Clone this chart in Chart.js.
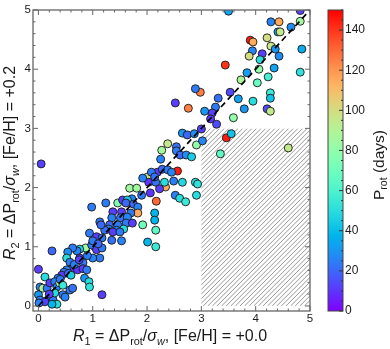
<!DOCTYPE html>
<html>
<head>
<meta charset="utf-8">
<script src="https://cdn.jsdelivr.net/npm/chart.js@4.4.1/dist/chart.umd.min.js"></script>
<style>
  html, body { margin: 0; padding: 0; background: #fff; }
  #wrap { width: 390px; height: 349px; position: relative; }
</style>
</head>
<body>
<div id="wrap"><canvas id="chart" width="390" height="349"></canvas></div>
<script>
/* =========================
   R1 vs R2 scatter, coloured by Prot
========================= */

// -------------------------
// Data
// -------------------------
const r1Values = [
  3.50,4.82,4.28,4.43,4.82,4.65,4.41,4.45,3.90,3.95,4.21,4.28,4.36,4.85,3.94,3.88,4.12,4.43,4.08,3.44,
  4.06,4.34,4.82,3.84,4.23,3.73,4.03,4.27,3.53,2.98,2.89,3.31,3.68,3.95,4.27,3.06,3.26,3.20,3.79,4.21,
  4.27,3.17,3.28,3.59,2.52,2.76,2.65,2.74,2.87,3.00,2.91,3.02,3.46,3.55,3.35,4.60,2.38,2.27,2.54,2.54,
  2.25,2.61,2.72,2.82,2.56,2.01,2.19,2.28,2.38,2.45,2.08,2.03,2.16,2.34,2.32,2.23,2.49,2.65,2.89,2.93,
  2.06,2.52,2.60,2.71,2.91,2.17,0.05,1.68,1.81,1.90,1.72,1.46,1.55,1.64,1.61,1.75,1.83,1.24,0.98,2.14,
  2.14,2.16,2.01,2.16,1.83,1.37,1.53,1.70,1.35,1.51,1.64,1.62,1.73,1.92,1.46,1.31,1.29,1.44,1.53,0.94,
  1.07,1.17,1.22,1.04,1.13,1.35,1.57,1.15,1.37,1.50,1.92,2.14,0.25,0.87,0.98,0.76,0.71,0.63,0.54,1.07,
  1.17,1.13,1.00,0.52,0.58,0.76,0.82,0.63,0.52,0.72,0.82,0.89,0.85,0.93,0.94,0.47,0.43,0.36,0.00,0.12,
  0.03,0.08,0.16,0.21,0.30,0.34,0.39,0.45,0.49,0.00,0.03,0.17,0.12,0.27,0.34,0.25,0.01,1.17,0.30,0.58,
  0.63,0.40,0.55,0.66,0.75,0.90,0.45,0.20,0.60,1.00,1.10
];
const r2Values = [
  4.98,4.99,4.80,4.80,4.81,4.71,4.63,4.63,4.49,4.46,4.53,4.39,4.34,4.34,4.31,4.22,4.26,4.22,4.16,4.07,
  4.00,4.02,3.95,3.94,3.87,3.82,3.77,3.60,3.61,3.61,3.67,3.51,3.50,3.46,3.51,3.29,3.36,3.26,3.33,3.33,
  3.29,3.16,3.07,3.18,3.43,3.34,2.92,2.89,2.91,2.99,2.72,2.79,2.84,2.91,2.57,2.67,2.74,2.63,2.69,2.62,
  2.48,2.55,2.55,2.52,2.28,2.18,2.26,2.31,2.30,2.26,2.26,2.09,2.09,2.01,2.09,1.98,2.11,2.09,2.09,2.06,
  1.91,1.87,1.82,1.76,1.87,1.77,2.40,1.99,1.99,1.87,1.81,1.74,1.79,1.79,1.74,1.72,1.67,1.74,1.67,1.57,
  1.45,1.28,1.08,1.00,1.57,1.59,1.59,1.57,1.49,1.49,1.50,1.40,1.40,1.37,1.37,1.37,1.30,1.28,1.10,1.23,
  1.17,1.15,1.28,1.00,1.42,1.11,1.30,1.37,1.25,1.25,2.16,2.18,0.93,0.98,1.03,0.96,0.93,0.98,0.91,0.95,
  0.98,0.81,0.81,0.81,0.74,0.81,0.73,0.64,0.61,0.61,0.63,0.61,0.47,0.41,0.32,0.57,0.52,0.47,0.62,0.49,
  0.32,0.30,0.30,0.39,0.41,0.32,0.39,0.19,0.15,0.19,0.10,0.10,0.07,0.10,0.03,0.03,0.05,0.19,0.22,0.27,
  0.30,0.45,0.55,0.70,0.78,0.85,0.35,0.20,0.52,1.10,1.05
];
const protDays = [
  33,12,26,115,85,28,33,95,145,115,100,97,30,35,26,100,12,28,50,140,
  80,33,52,32,58,88,68,55,14,125,24,22,33,50,42,30,24,12,30,14,
  95,10,14,80,12,125,30,20,28,12,80,26,145,42,65,95,95,85,22,24,
  26,20,28,45,145,95,12,20,24,26,24,10,22,115,50,12,24,48,50,52,
  10,26,50,55,50,130,12,85,85,24,26,75,12,45,20,20,26,24,24,38,
  38,65,38,55,115,12,12,24,26,22,26,24,12,70,24,20,26,24,26,24,
  12,24,22,26,24,22,50,20,12,24,26,22,20,85,24,45,26,24,28,12,
  24,24,26,50,24,12,24,12,26,10,12,24,30,50,52,24,12,26,12,50,
  26,90,24,12,24,26,85,24,26,30,24,28,12,24,50,38,26,12,50,24,
  22,24,20,26,12,24,55,12,45,24,20
];

const axisTicks = [0, 1, 2, 3, 4, 5];
const cbTicks = [0, 20, 40, 60, 80, 100, 120, 140];
const cbRange = [0, 150];
const oneToOne = [0, 5];
const hatchX = [3, 5];
const hatchY = [0, 3];

// -------------------------
// Style
// -------------------------
const FONT = '"Liberation Sans", Arial, Helvetica, sans-serif';
const AXIS_COLOR = "#666";
const TEXT_COLOR = "#1a1a1a";
const CB = { left: 328, right: 343 };

// matplotlib "rainbow" colormap
function rainbow(t) {
  t = Math.max(0, Math.min(1, t));
  const r = Math.min(1, Math.abs(2 * t - 0.5));
  const g = Math.sin(Math.PI * t);
  const b = Math.cos(Math.PI * t / 2);
  return `rgb(${Math.round(r * 255)},${Math.round(g * 255)},${Math.round(b * 255)})`;
}
const colorFor = p => rainbow((p - cbRange[0]) / (cbRange[1] - cbRange[0]));

// -------------------------
// Rich text helper (italics + subscripts)
// -------------------------
function segFont(s, size) {
  const sz = s.sub ? size * 0.68 : size;
  return `${s.it ? "italic " : ""}${sz}px ${FONT}`;
}

function drawRich(ctx, segs, cx, cy, size) {
  let w = 0;
  segs.forEach(s => { ctx.font = segFont(s, size); w += ctx.measureText(s.t).width; });
  let x = cx - w / 2;
  const base = cy + size * 0.36;
  ctx.textAlign = "left";
  ctx.textBaseline = "alphabetic";
  segs.forEach(s => {
    ctx.font = segFont(s, size);
    ctx.fillText(s.t, x, base + (s.sub ? size * 0.24 : 0));
    x += ctx.measureText(s.t).width;
  });
}

const xTitle = [
  { t: "R", it: true }, { t: "1", sub: true }, { t: " = ΔP" }, { t: "rot", sub: true },
  { t: "/" }, { t: "σ", it: true }, { t: "w", it: true, sub: true }, { t: ", [Fe/H] = +0.0" }
];
const yTitle = [
  { t: "R", it: true }, { t: "2", sub: true }, { t: " = ΔP" }, { t: "rot", sub: true },
  { t: "/" }, { t: "σ", it: true }, { t: "w", it: true, sub: true }, { t: ", [Fe/H] = +0.2" }
];
const cbTitle = [{ t: "P" }, { t: "rot", sub: true }, { t: " (days)" }];

// -------------------------
// Plugin: hatch, frame, ticks, titles, colorbar
// -------------------------
const decor = {
  id: "decor",
  beforeDatasetsDraw(chart) {
    const { ctx, scales: { x, y } } = chart;
    const x0 = x.getPixelForValue(hatchX[0]), x1 = x.getPixelForValue(hatchX[1]);
    const y0 = y.getPixelForValue(hatchY[1]), y1 = y.getPixelForValue(hatchY[0]);
    ctx.save();
    ctx.beginPath();
    ctx.rect(x0, y0, x1 - x0, y1 - y0);
    ctx.clip();
    ctx.strokeStyle = "#8c8c8c";
    ctx.lineWidth = 0.9;
    const h = y1 - y0;
    for (let s = x0 - h; s < x1 + 5; s += 4.6) {
      ctx.beginPath();
      ctx.moveTo(s, y1);
      ctx.lineTo(s + h, y0);
      ctx.stroke();
    }
    ctx.restore();
  },
  afterDraw(chart) {
    const { ctx, chartArea: a, scales: { x, y } } = chart;
    ctx.save();

    // frame
    ctx.strokeStyle = AXIS_COLOR;
    ctx.lineWidth = 1.3;
    ctx.strokeRect(a.left, a.top, a.right - a.left, a.bottom - a.top);

    // inward ticks on all four sides
    ctx.lineWidth = 1;
    for (let v = 0; v <= 5.001; v += 0.2) {
      const major = Math.abs(v - Math.round(v)) < 1e-6;
      const len = major ? 5 : 2.5;
      const px = x.getPixelForValue(v);
      const py = y.getPixelForValue(v);
      ctx.beginPath();
      ctx.moveTo(px, a.bottom); ctx.lineTo(px, a.bottom - len);
      ctx.moveTo(px, a.top); ctx.lineTo(px, a.top + len);
      ctx.moveTo(a.left, py); ctx.lineTo(a.left + len, py);
      ctx.moveTo(a.right, py); ctx.lineTo(a.right - len, py);
      ctx.stroke();
    }

    // axis titles
    ctx.fillStyle = TEXT_COLOR;
    drawRich(ctx, xTitle, 170, 335, 16);
    ctx.save();
    ctx.translate(9.5, 163);
    ctx.rotate(-Math.PI / 2);
    drawRich(ctx, yTitle, 0, 0, 16);
    ctx.restore();

    // colorbar
    const top = a.top, bot = a.bottom;
    const cbY = v => bot - (v - cbRange[0]) / (cbRange[1] - cbRange[0]) * (bot - top);
    const grad = ctx.createLinearGradient(0, bot, 0, top);
    for (let i = 0; i <= 20; i++) grad.addColorStop(i / 20, rainbow(i / 20));
    ctx.fillStyle = grad;
    ctx.fillRect(CB.left, top, CB.right - CB.left, bot - top);
    ctx.strokeStyle = "#444";
    ctx.lineWidth = 1;
    ctx.strokeRect(CB.left, top, CB.right - CB.left, bot - top);

    ctx.strokeStyle = "#333";
    for (let v = 0; v <= cbRange[1]; v += 5) {
      const major = v % 20 === 0;
      const py = cbY(v);
      ctx.beginPath();
      ctx.moveTo(CB.right, py);
      ctx.lineTo(CB.right - (major ? 4 : 2), py);
      ctx.stroke();
    }
    ctx.fillStyle = TEXT_COLOR;
    ctx.font = `12px ${FONT}`;
    ctx.textAlign = "left";
    ctx.textBaseline = "middle";
    cbTicks.forEach(v => ctx.fillText(String(v), CB.right + 2, cbY(v)));

    ctx.save();
    ctx.translate(378, 165);
    ctx.rotate(-Math.PI / 2);
    drawRich(ctx, cbTitle, 0, 0, 15.5);
    ctx.restore();

    ctx.restore();
  }
};

// -------------------------
// Chart
// -------------------------
const points = r1Values.map((v, i) => ({ x: v, y: r2Values[i] }));

new Chart(document.getElementById("chart"), {
  type: "scatter",
  data: {
    datasets: [
      {
        type: "line",
        data: oneToOne.map(v => ({ x: v, y: v })),
        borderColor: "#000",
        borderWidth: 1.7,
        borderDash: [6, 4],
        pointRadius: 0,
        order: 0
      },
      {
        data: points,
        backgroundColor: protDays.map(colorFor),
        borderColor: "#1a1a1a",
        borderWidth: 0.9,
        pointRadius: 4,
        clip: 0,
        order: 1
      }
    ]
  },
  options: {
    responsive: false,
    animation: false,
    devicePixelRatio: 1,
    layout: { padding: { top: 10, right: 80, left: 0, bottom: 0 } },
    plugins: { legend: { display: false }, tooltip: { enabled: false } },
    scales: {
      x: {
        type: "linear",
        min: -0.1, max: 5,
        grid: { display: false, drawTicks: false, tickLength: 0 },
        border: { display: false },
        afterBuildTicks: s => { s.ticks = axisTicks.map(v => ({ value: v })); },
        afterFit: s => { s.height = 38; },
        ticks: { font: { family: FONT, size: 11.5 }, color: TEXT_COLOR, padding: 1, maxRotation: 0 }
      },
      y: {
        type: "linear",
        min: -0.085, max: 5,
        grid: { display: false, drawTicks: false, tickLength: 0 },
        border: { display: false },
        afterBuildTicks: s => { s.ticks = axisTicks.map(v => ({ value: v })); },
        afterFit: s => { s.width = 33; },
        ticks: { font: { family: FONT, size: 11.5 }, color: TEXT_COLOR, padding: 2 }
      }
    }
  },
  plugins: [decor]
});
</script>
</body>
</html>
